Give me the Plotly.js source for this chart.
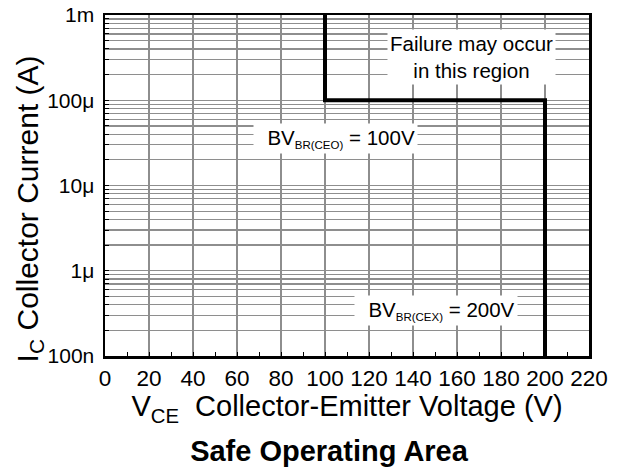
<!DOCTYPE html>
<html>
<head>
<meta charset="utf-8">
<script src="https://cdn.plot.ly/plotly-3.0.1.min.js"></script>
<style>html,body{margin:0;padding:0;background:#fff;}#chart{width:621px;height:471px;}</style>
</head>
<body>
<div id="chart"></div>
<script>
// Safe Operating Area boundary (V, A)
var boundaryV = [100, 100, 200, 200];
var boundaryI = [1e-3, 1e-4, 1e-4, 1e-7];

// x-axis ticks
var xTickVals = [0, 20, 40, 60, 80, 100, 120, 140, 160, 180, 200, 220];
var xTickText = ['0', '20', '40', '60', '80', '100', '120', '140', '160', '180', '200', '220'];

// y-axis decade labels
var yDecades = [1e-7, 1e-6, 1e-5, 1e-4, 1e-3];
var yDecadeText = ['100n', '1\u03bc', '10\u03bc', '100\u03bc', '1m'];

// annotation texts and positions (data units)
var noteTexts = ['Failure may occur<br>in this region',
                 '\u00a0\u00a0BV<sub><span style="font-size:11.5px">BR(CEO)</span></sub> = 100V',
                 '\u00a0\u00a0BV<sub><span style="font-size:11.5px">BR(CEX)</span></sub> = 200V'];
var noteV = [166.8, 104.6, 150.5];
var noteI = [3.18e-4, 3.55e-5, 3.4e-7];

// minor log grid values (2..9 per decade)
var yMinorVals = [];
for (var d = 0; d < yDecades.length - 1; d++) {
  for (var m = 2; m <= 9; m++) yMinorVals.push(yDecades[d] * m);
}

var FONT = 'Arial, "Liberation Sans", Helvetica, sans-serif';
var GRID = '#8e8e8e';

var trace = {
  x: boundaryV, y: boundaryI,
  type: 'scatter', mode: 'lines',
  line: {color: '#000', width: 4},
  hoverinfo: 'skip', showlegend: false
};

var annotations = [];
for (var i = 0; i < noteTexts.length; i++) {
  annotations.push({
    x: noteV[i], y: Math.log10(noteI[i]), xref: 'x', yref: 'y',
    text: noteTexts[i], showarrow: false,
    font: {family: FONT, size: 20.5, color: '#000'},
    bgcolor: '#fff', borderpad: 2, align: 'center'
  });
}
// y-axis title (offset below plot centre as in reference)
annotations.push({
  xref: 'paper', yref: 'paper', x: -0.157, y: 0.43,
  xanchor: 'center', yanchor: 'middle', textangle: -90,
  text: 'I<sub>C</sub> Collector Current (A)', showarrow: false,
  font: {family: FONT, size: 30, color: '#000'}
});

var layout = {
  width: 621, height: 471,
  margin: {l: 105, r: 32, t: 15, b: 115},
  paper_bgcolor: '#fff', plot_bgcolor: '#fff',
  font: {family: FONT, color: '#000'},
  showlegend: false,
  title: {
    text: '<b>Safe Operating Area</b>',
    font: {family: FONT, size: 29, color: '#000'},
    xref: 'container', yref: 'container',
    x: 329 / 621, xanchor: 'center',
    y: 1 - 451 / 471, yanchor: 'middle'
  },
  xaxis: {
    range: [0, 220], tickmode: 'array', tickvals: xTickVals, ticktext: xTickText,
    showgrid: true, gridcolor: GRID, gridwidth: 1.6,
    zeroline: false, showline: true, linecolor: '#000', linewidth: 2.5, mirror: true,
    ticks: 'inside', ticklen: 4, tickcolor: '#000', tickwidth: 1,
    minor: {dtick: 10, tick0: 0, ticks: 'inside', ticklen: 4, tickcolor: '#000', showgrid: false},
    tickfont: {family: FONT, size: 22.5, color: '#000'},
    ticklabelstandoff: 0,
    title: {
      text: 'V<sub>CE</sub>\u00a0\u00a0Collector-Emitter Voltage (V)',
      font: {family: FONT, size: 29, color: '#000'},
      standoff: 6
    }
  },
  yaxis: {
    type: 'log', range: [-7, -3],
    tickmode: 'array', tickvals: yDecades, ticktext: yDecadeText,
    showgrid: true, gridcolor: GRID, gridwidth: 1.3,
    zeroline: false, showline: true, linecolor: '#000', linewidth: 2.5, mirror: true,
    ticks: 'inside', ticklen: 4, tickcolor: '#000', tickwidth: 1,
    minor: {tickmode: 'array', tickvals: yMinorVals, ticks: 'inside', ticklen: 4,
            tickcolor: '#000', tickwidth: 1, showgrid: true, gridcolor: GRID, gridwidth: 1.3},
    tickfont: {family: FONT, size: 21, color: '#000'},
    ticklabelstandoff: 4
  },
  annotations: annotations
};

Plotly.newPlot('chart', [trace], layout, {displayModeBar: false, staticPlot: true});
</script>
</body>
</html>
